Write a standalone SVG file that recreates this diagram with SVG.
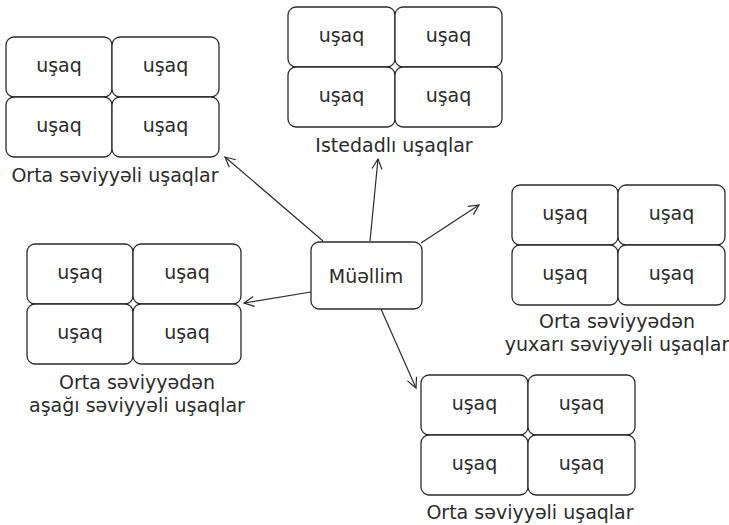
<svg xmlns="http://www.w3.org/2000/svg" width="729" height="525" viewBox="0 0 729 525">
<defs>
<style>
.cell{fill:#fff;stroke:#2b2b2b;stroke-width:1.3}
.t{font-family:"DejaVu Sans","Liberation Sans",sans-serif;font-size:19px;fill:#2b2b2b;text-anchor:middle}
.lbl{font-family:"DejaVu Sans","Liberation Sans",sans-serif;font-size:19px;fill:#2b2b2b;text-anchor:middle}
.conn{stroke:#2b2b2b;stroke-width:1.2;fill:none;marker-end:url(#arr)}
</style>
<marker id="arr" viewBox="0 0 12 12" refX="11" refY="6" markerWidth="12" markerHeight="12" markerUnits="userSpaceOnUse" orient="auto">
<path d="M1,1 L11,6 L1,11" fill="none" stroke="#2b2b2b" stroke-width="1.2"/>
</marker>
</defs>
<rect width="729" height="525" fill="#fff"/>

<g id="connectors">
<line class="conn" x1="323" y1="241" x2="225" y2="157"/>
<line class="conn" x1="370" y1="241" x2="378" y2="159"/>
<line class="conn" x1="421" y1="243" x2="479" y2="205"/>
<line class="conn" x1="311" y1="292" x2="244" y2="303"/>
<line class="conn" x1="381" y1="309" x2="416" y2="388"/>
</g>

<g id="muellim">
<rect class="cell" x="311" y="242" width="111" height="67" rx="8"/>
<text class="t" x="366" y="283">Müəllim</text>
</g>

<g id="group-top-left">
<rect class="cell" x="6" y="37" width="106" height="60" rx="8"/>
<rect class="cell" x="112" y="37" width="107" height="60" rx="8"/>
<rect class="cell" x="6" y="97" width="106" height="60" rx="8"/>
<rect class="cell" x="112" y="97" width="107" height="60" rx="8"/>
<text class="t" x="59" y="72">uşaq</text>
<text class="t" x="165.5" y="72">uşaq</text>
<text class="t" x="59" y="132">uşaq</text>
<text class="t" x="165.5" y="132">uşaq</text>
<text class="lbl" x="115" y="182">Orta səviyyəli uşaqlar</text>
</g>

<g id="group-top">
<rect class="cell" x="288" y="7" width="107" height="60" rx="8"/>
<rect class="cell" x="395" y="7" width="107" height="60" rx="8"/>
<rect class="cell" x="288" y="67" width="107" height="60" rx="8"/>
<rect class="cell" x="395" y="67" width="107" height="60" rx="8"/>
<text class="t" x="341.5" y="42">uşaq</text>
<text class="t" x="448.5" y="42">uşaq</text>
<text class="t" x="341.5" y="102">uşaq</text>
<text class="t" x="448.5" y="102">uşaq</text>
<text class="lbl" x="394" y="152">Istedadlı uşaqlar</text>
</g>

<g id="group-right">
<rect class="cell" x="512" y="185" width="106" height="60" rx="8"/>
<rect class="cell" x="618" y="185" width="107" height="60" rx="8"/>
<rect class="cell" x="512" y="245" width="106" height="60" rx="8"/>
<rect class="cell" x="618" y="245" width="107" height="60" rx="8"/>
<text class="t" x="565" y="220">uşaq</text>
<text class="t" x="671.5" y="220">uşaq</text>
<text class="t" x="565" y="280">uşaq</text>
<text class="t" x="671.5" y="280">uşaq</text>
<text class="lbl" x="617" y="328">Orta səviyyədən</text>
<text class="lbl" x="617" y="351">yuxarı səviyyəli uşaqlar</text>
</g>

<g id="group-left">
<rect class="cell" x="27" y="244" width="106" height="60" rx="8"/>
<rect class="cell" x="133" y="244" width="108" height="60" rx="8"/>
<rect class="cell" x="27" y="304" width="106" height="60" rx="8"/>
<rect class="cell" x="133" y="304" width="108" height="60" rx="8"/>
<text class="t" x="80" y="279">uşaq</text>
<text class="t" x="187" y="279">uşaq</text>
<text class="t" x="80" y="339">uşaq</text>
<text class="t" x="187" y="339">uşaq</text>
<text class="lbl" x="137" y="389">Orta səviyyədən</text>
<text class="lbl" x="137" y="412">aşağı səviyyəli uşaqlar</text>
</g>

<g id="group-bottom">
<rect class="cell" x="421" y="375" width="107" height="60" rx="8"/>
<rect class="cell" x="528" y="375" width="107" height="60" rx="8"/>
<rect class="cell" x="421" y="435" width="107" height="60" rx="8"/>
<rect class="cell" x="528" y="435" width="107" height="60" rx="8"/>
<text class="t" x="474.5" y="410">uşaq</text>
<text class="t" x="581.5" y="410">uşaq</text>
<text class="t" x="474.5" y="470">uşaq</text>
<text class="t" x="581.5" y="470">uşaq</text>
<text class="lbl" x="530" y="519">Orta səviyyəli uşaqlar</text>
</g>
</svg>
